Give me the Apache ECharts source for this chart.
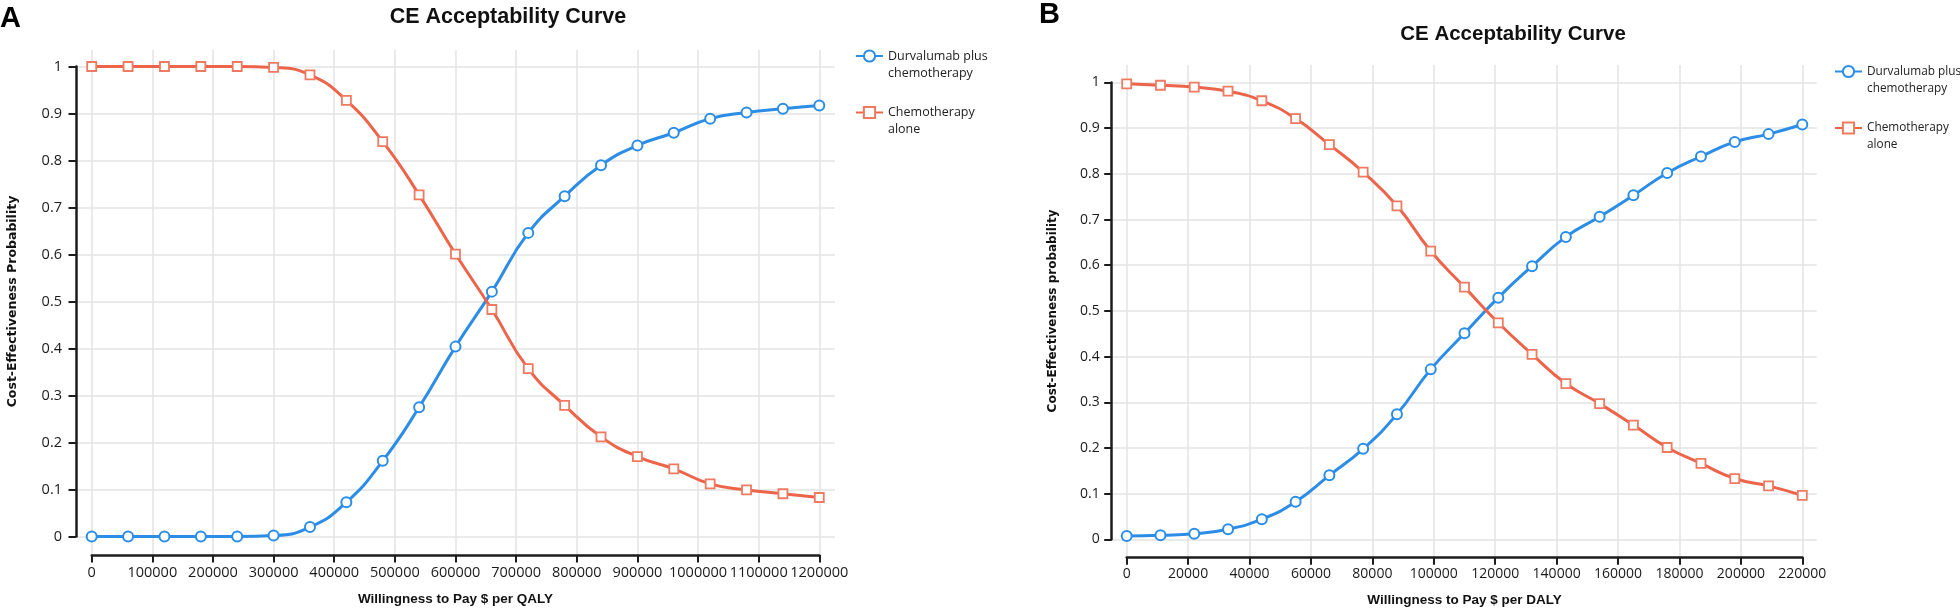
<!DOCTYPE html>
<html>
<head>
<meta charset="utf-8">
<script src="https://cdn.jsdelivr.net/npm/echarts@6/dist/echarts.min.js"></script>
<style>html,body{margin:0;padding:0;background:#fff}#c{width:1960px;height:610px}</style>
</head>
<body>
<div id="c"></div>
<script>
// ---- data ----
const wtpA = [0,60000,120000,180000,240000,300000,360000,420000,480000,540000,600000,660000,720000,780000,840000,900000,960000,1020000,1080000,1140000,1200000];
const durvaA = [0,0,0,0,0,0.002,0.02,0.073,0.161,0.275,0.404,0.521,0.646,0.724,0.790,0.832,0.859,0.889,0.902,0.910,0.917];
const chemoA = [1,1,1,1,1,0.998,0.982,0.928,0.840,0.727,0.601,0.483,0.357,0.279,0.212,0.170,0.144,0.112,0.099,0.091,0.083];
const xTicksA = [0,100000,200000,300000,400000,500000,600000,700000,800000,900000,1000000,1100000,1200000];

const wtpB = [0,11000,22000,33000,44000,55000,66000,77000,88000,99000,110000,121000,132000,143000,154000,165000,176000,187000,198000,209000,220000];
const durvaB = [0.007,0.009,0.012,0.022,0.044,0.082,0.140,0.198,0.274,0.372,0.451,0.529,0.598,0.662,0.706,0.753,0.802,0.838,0.870,0.887,0.908];
const chemoB = [0.997,0.994,0.990,0.981,0.960,0.921,0.864,0.804,0.730,0.631,0.552,0.474,0.405,0.341,0.297,0.250,0.201,0.166,0.133,0.117,0.096];
const xTicksB = [0,20000,40000,60000,80000,100000,120000,140000,160000,180000,200000,220000];

const yTicks = [0,0.1,0.2,0.3,0.4,0.5,0.6,0.7,0.8,0.9,1];
const seriesNames = ['Durvalumab plus\nchemotherapy', 'Chemotherapy\nalone'];
const panelTitle = 'CE Acceptability Curve';
const xNameA = 'Willingness to Pay $ per QALY';
const xNameB = 'Willingness to Pay $ per DALY';
const yNameA = 'Cost-Effectiveness Probability';
const yNameB = 'Cost-Effectiveness probability';

// ---- styles ----
const BLUE = '#2b8de6';
const RED = '#ec6449';
const RED_B = '#ee7a62';
const AXIS = '#1c1c1c';
const GRIDC = '#e3e3e3';
const tickFont = '"Liberation Sans Narrow", "Open Sans", sans-serif';

function pairs(xs, ys) { return xs.map((x, i) => [x, ys[i]]); }

function tightAxes(gi, xmax, xint, xName, yName, o) {
  const x = {
    type: 'value', gridIndex: gi, min: 0, max: xmax, interval: xint,
    offset: o.xOff, name: xName, nameLocation: 'middle', nameGap: o.xNameGap,
    nameMoveOverlap: false,
    nameTextStyle: {fontFamily: '"Liberation Sans", Arial, sans-serif', fontWeight: 'bold', fontSize: o.xNameSize, color: '#111'},
    axisLine: {show: true, onZero: false, lineStyle: {color: AXIS, width: 2.5}},
    axisTick: {show: true, length: o.tickLen, lineStyle: {color: AXIS, width: 2}},
    axisLabel: {show: true, interval: 0, margin: o.xLabMargin, fontFamily: tickFont, fontSize: o.tickSize, color: '#1a1a1a',
      formatter: v => String(v)},
    splitLine: {show: false}
  };
  const y = {
    type: 'value', gridIndex: gi, min: 0, max: 1, interval: 0.1,
    offset: o.yOff, name: yName, nameLocation: 'middle', nameGap: o.yNameGap,
    nameMoveOverlap: false,
    nameTextStyle: {fontFamily: '"DejaVu Sans", Verdana, sans-serif', fontWeight: 'bold', fontSize: o.yNameSize, color: '#111'},
    axisLine: {show: true, onZero: false, lineStyle: {color: AXIS, width: 2.5}},
    axisTick: {show: true, length: o.tickLen, lineStyle: {color: AXIS, width: 2}},
    axisLabel: {show: true, margin: o.yLabMargin, fontFamily: tickFont, fontSize: o.tickSize, color: '#1a1a1a',
      formatter: v => String(Math.round(v * 10) / 10)},
    splitLine: {show: false}
  };
  return [x, y];
}

function bgAxes(gi, xmin, xmax, xticks, ymin, ymax) {
  const common = {
    axisLine: {show: false}, axisLabel: {show: false},
    splitLine: {show: true, lineStyle: {color: GRIDC, width: 1.5}}
  };
  const x = Object.assign({type: 'value', gridIndex: gi, min: xmin, max: xmax,
    axisTick: {show: false, customValues: xticks}}, common);
  const y = Object.assign({type: 'value', gridIndex: gi, min: ymin, max: ymax,
    axisTick: {show: false, customValues: yTicks}}, common);
  return [x, y];
}

// Panel geometry (pixels)
const A = {left: 91.7, top: 66.5, right: 819.3, bottom: 536.5, axL: 76, axB: 555, gT: 50, gR: 835};
const B = {left: 1126.7, top: 82.5, right: 1802.3, bottom: 539.3, axL: 1111.7, axB: 557.3, gT: 65, gR: 1816.7};

function bgRange(P, xmax) {
  const w = P.right - P.left, h = P.bottom - P.top;
  return {
    xmin: -(P.left - P.axL) / w * xmax,
    xmax: xmax + (P.gR - P.right) / w * xmax,
    ymin: -(P.axB - P.bottom) / h,
    ymax: 1 + (P.top - P.gT) / h
  };
}
const rA = bgRange(A, 1200000);
const rB = bgRange(B, 220000);

const [xA, yA] = tightAxes(0, 1200000, 100000, xNameA, yNameA,
  {xOff: A.axB - A.bottom, yOff: A.left - A.axL, tickLen: 7.5, tickSize: 14.5, xLabMargin: 10, yLabMargin: 14, xNameGap: 37, yNameGap: 57, xNameSize: 13.5, yNameSize: 12.5});
const [xB, yB] = tightAxes(1, 220000, 20000, xNameB, yNameB,
  {xOff: B.axB - B.bottom, yOff: B.left - B.axL, tickLen: 7.5, tickSize: 14, xLabMargin: 10, yLabMargin: 12, xNameGap: 36, yNameGap: 53, xNameSize: 13.5, yNameSize: 12});
const [xAbg, yAbg] = bgAxes(2, rA.xmin, rA.xmax, xTicksA, rA.ymin, rA.ymax);
const [xBbg, yBbg] = bgAxes(3, rB.xmin, rB.xmax, xTicksB, rB.ymin, rB.ymax);

function lineSeries(name, data, xi, color, symbol, size, border) {
  return {
    type: 'line', name: name, xAxisIndex: xi, yAxisIndex: xi, data: data,
    smooth: 0.5,
    symbol: symbol, symbolSize: size, showAllSymbol: true,
    lineStyle: {color: color, width: 3},
    itemStyle: {color: '#ffffff', borderColor: border, borderWidth: symbol === 'circle' ? 2 : 1.8},
    emphasis: {disabled: true}, z: 3
  };
}

function legendFor(left, top, fs) {
  return {
    orient: 'vertical', left: left, top: top, padding: 0,
    itemWidth: 27, itemHeight: 14, itemGap: 5.5,
    selectedMode: false,
    formatter: n => '\n' + n,
    textStyle: {fontFamily: '"Open Sans", "Noto Sans", sans-serif', fontSize: fs, lineHeight: 17, color: '#222'},
    data: seriesNames
  };
}

const option = {
  animation: false,
  backgroundColor: '#ffffff',
  grid: [
    {left: A.left, top: A.top, width: A.right - A.left, height: A.bottom - A.top, outerBoundsMode: 'none', containLabel: false},
    {left: B.left, top: B.top, width: B.right - B.left, height: B.bottom - B.top, outerBoundsMode: 'none', containLabel: false},
    {left: A.axL, top: A.gT, width: A.gR - A.axL, height: A.axB - A.gT, outerBoundsMode: 'none', containLabel: false, z: 0},
    {left: B.axL, top: B.gT, width: B.gR - B.axL, height: B.axB - B.gT, outerBoundsMode: 'none', containLabel: false, z: 0}
  ],
  xAxis: [xA, xB, xAbg, xBbg],
  yAxis: [yA, yB, yAbg, yBbg],
  legend: [legendFor(855, 30.5, 12.5), legendFor(1834, 46, 11.8)],
  graphic: [
    {type: 'text', x: 0, y: 18.5, style: {text: 'A', font: 'bold 29px "Liberation Sans", Arial, sans-serif', fill: '#000', textAlign: 'left', textVerticalAlign: 'middle'}},
    {type: 'text', x: 1039, y: 15, style: {text: 'B', font: 'bold 29px "Liberation Sans", Arial, sans-serif', fill: '#000', textAlign: 'left', textVerticalAlign: 'middle'}},
    {type: 'text', x: 508, y: 17, style: {text: panelTitle, font: 'bold 21.5px "Liberation Sans", Arial, sans-serif', fill: '#111', textAlign: 'center', textVerticalAlign: 'middle'}},
    {type: 'text', x: 1513, y: 34, style: {text: panelTitle, font: 'bold 20.5px "Liberation Sans", Arial, sans-serif', fill: '#111', textAlign: 'center', textVerticalAlign: 'middle'}}
  ],
  series: [
    lineSeries(seriesNames[0], pairs(wtpA, durvaA), 0, BLUE, 'circle', 10, BLUE),
    lineSeries(seriesNames[1], pairs(wtpA, chemoA), 0, RED, 'rect', 9, RED_B),
    lineSeries(seriesNames[0], pairs(wtpB, durvaB), 1, BLUE, 'circle', 10, BLUE),
    lineSeries(seriesNames[1], pairs(wtpB, chemoB), 1, RED, 'rect', 9, RED_B)
  ]
};

const chart = echarts.init(document.getElementById('c'), null, {renderer: 'canvas'});
chart.setOption(option);
</script>
</body>
</html>
